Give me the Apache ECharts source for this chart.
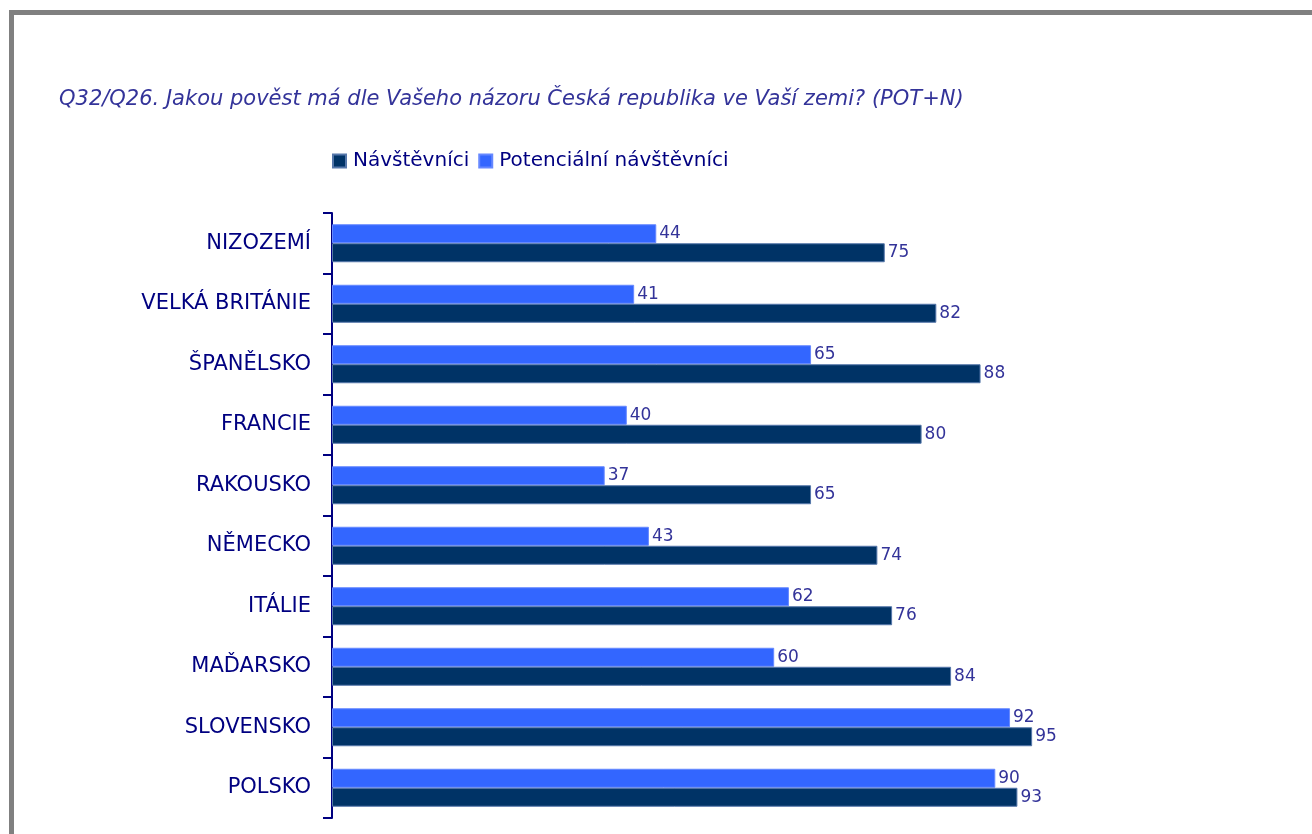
<!DOCTYPE html>
<html><head><meta charset="utf-8">
<script src="https://cdn.jsdelivr.net/npm/echarts@6/dist/echarts.min.js"></script>
<style>html,body{margin:0;padding:0;background:#fff}#c{width:1312px;height:834px}</style>
</head><body><div id="c"></div>
<script>
const categories = ['NIZOZEMÍ','VELKÁ BRITÁNIE','ŠPANĚLSKO','FRANCIE','RAKOUSKO','NĚMECKO','ITÁLIE','MAĎARSKO','SLOVENSKO','POLSKO'];
const potencialni = [44,41,65,40,37,43,62,60,92,90];
const navstevnici = [75,82,88,80,65,74,76,84,95,93];
const seriesNames = ['Návštěvníci','Potenciální návštěvníci'];
const titleText = 'Q32/Q26. Jakou pověst má dle Vašeho názoru Česká republika ve Vaší zemi? (POT+N)';

const FONT = '"DejaVu Sans", Verdana, sans-serif';
const chart = echarts.init(document.getElementById('c'), null, {renderer:'canvas'});
const labelStyle = {show:true, position:'right', distance:3, color:'#333399', fontFamily:FONT, fontSize:17};
chart.setOption({
  animation:false,
  backgroundColor:'#fff',
  title:{text:titleText, left:54, top:84, textStyle:{color:'#333399', fontStyle:'italic', fontWeight:'normal', fontFamily:FONT, fontSize:21}},
  legend:{data:seriesNames, left:327, top:146, itemWidth:13, itemHeight:13, itemGap:9, icon:'rect',
    textStyle:{color:'#000080', fontFamily:FONT, fontSize:20, padding:[0,0,0,2]}},
  grid:{left:332, right:243, top:213, bottom:16, containLabel:false},
  xAxis:{type:'value', min:0, max:100, show:false},
  yAxis:{type:'category', data:categories, inverse:true,
    axisLine:{show:true, lineStyle:{color:'#000080', width:2}},
    axisTick:{show:true, length:9, lineStyle:{color:'#000080', width:2}},
    axisLabel:{color:'#000080', fontFamily:FONT, fontSize:21, margin:21}},
  graphic:[
    {type:'rect', shape:{x:9, y:10, width:1303, height:5}, style:{fill:'#808080'}},
    {type:'rect', shape:{x:9, y:10, width:5, height:824}, style:{fill:'#808080'}}
  ],
  series:[
    {name:seriesNames[1], type:'bar', data:potencialni, barWidth:19, barGap:'0%',
      itemStyle:{color:'#3366FF', borderColor:'#6688ff', borderWidth:1}, label:labelStyle},
    {name:seriesNames[0], type:'bar', data:navstevnici, barWidth:19, barGap:'0%',
      itemStyle:{color:'#003366', borderColor:'#5577aa', borderWidth:1}, label:labelStyle}
  ]
});
</script></body></html>
